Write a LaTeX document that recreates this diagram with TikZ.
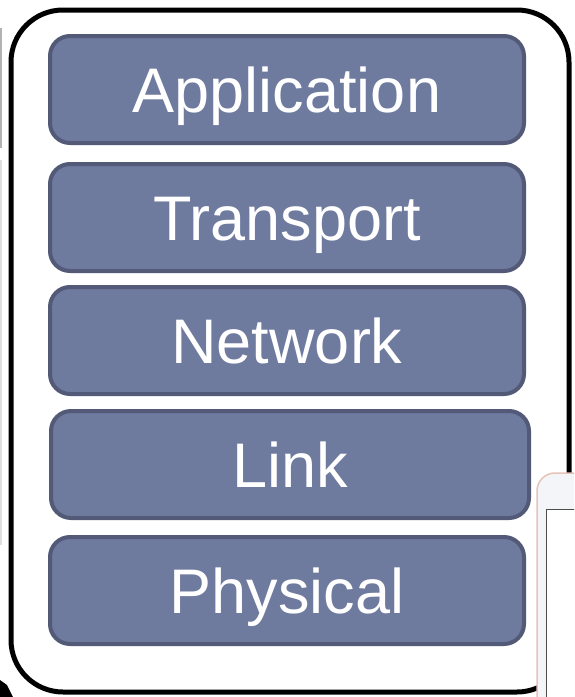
\documentclass[tikz,border=0pt]{standalone}
\usepackage{fontspec}
\setmainfont{Liberation Sans}
\usetikzlibrary{positioning}

\definecolor{layerfill}{HTML}{6F7A9F}
\definecolor{layerline}{HTML}{525A78}
\definecolor{phoneline}{HTML}{E6C3B8}
\definecolor{phonefill}{HTML}{F4F5F8}

\begin{document}
\begin{tikzpicture}
    [
        x=1pt, y=-1pt,
        layer/.style={rectangle, rounded corners=20pt, draw=layerline, fill=layerfill, line width=4pt,
                      minimum width=474pt, minimum height=107pt, text=white,
                      text height=45pt, text depth=0pt,
                      font=\fontsize{63}{70}\selectfont},
        stack/.style={draw=black, line width=5pt, rounded corners=52pt},
    ]
    \useasboundingbox (0,0) rectangle (574,697);
    \clip (0,0) rectangle (574,697);

    % leftover edges at the left
    \draw[gray!60, line width=1.5pt] (1,28) -- (1,148);
    \draw[gray!25, line width=1.5pt] (1,160) -- (1,545);
    \fill[black] (0,680) -- (7,685) -- (13,697) -- (0,697) -- cycle;

    \draw[stack] (11,10) rectangle (569,692);

    \node[layer] (app) at (287,89.5) {Application};
    \node[layer] (transport) [below=17pt of app] {Transport};
    \node[layer] (network) [below=12pt of transport] {Network};
    \node[layer, minimum width=478pt, xshift=3pt] (link) [below=13pt of network] {Link};
    \node[layer] (physical) [below=15pt of link, xshift=-3pt] {Physical};

    % phone at the corner
    \draw[phoneline, fill=phonefill, line width=1.5pt, rounded corners=18pt] (537,473) rectangle (640,760);
    \draw[black!70, fill=white, line width=1pt] (546,509) rectangle (620,720);
\end{tikzpicture}
\end{document}
